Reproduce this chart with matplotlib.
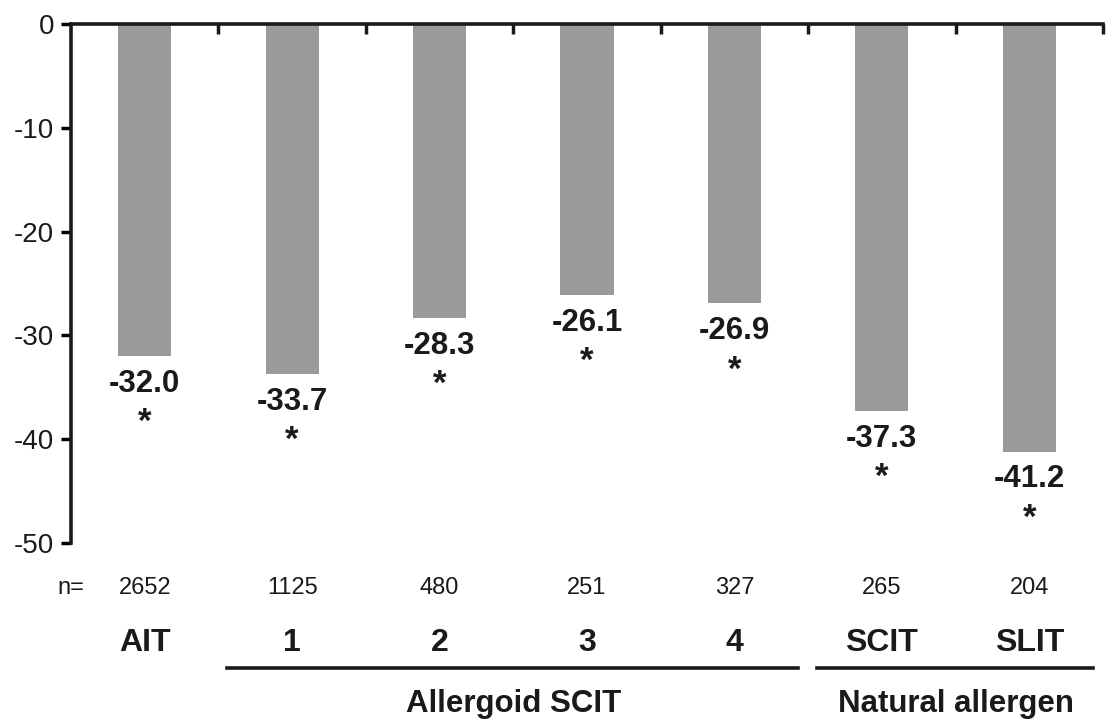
import matplotlib
matplotlib.use("Agg")
import matplotlib.pyplot as plt
from matplotlib.lines import Line2D

plt.rcParams['font.family'] = ['Liberation Sans', 'DejaVu Sans']

categories = ["AIT", "1", "2", "3", "4", "SCIT", "SLIT"]
values = [-32.0, -33.7, -28.3, -26.1, -26.9, -37.3, -41.2]
n_values = ["2652", "1125", "480", "251", "327", "265", "204"]
groups = [("Allergoid SCIT", 1, 4), ("Natural allergen", 5, 6)]
yticks = [0, -10, -20, -30, -40, -50]

fig = plt.figure(figsize=(11.07, 7.25), dpi=100)
ax = fig.add_axes([71/1107, 1-543/725, (1103-71)/1107, (543-24)/725])

x = list(range(len(categories)))
ax.bar(x, values, width=0.36, color="#999a99", edgecolor="none")

ax.set_xlim(-0.5, len(categories) - 0.5)
ax.set_ylim(-50, 0)
ax.set_yticks(yticks)
ax.set_yticklabels([str(t) for t in yticks], fontsize=20, color="#1a1a1a")
ax.tick_params(axis='y', direction='out', length=7, width=2.5, pad=5)

ax.spines['bottom'].set_visible(False)
ax.spines['right'].set_visible(False)
ax.spines['top'].set_linewidth(2.6)
ax.spines['left'].set_linewidth(2.6)
ax.spines['top'].set_color("#1a1a1a")
ax.spines['left'].set_color("#1a1a1a")
ax.xaxis.set_ticks_position('top')
ax.set_xticks([i + 0.5 for i in x])
ax.set_xticklabels([])
ax.tick_params(axis='x', direction='in', length=7, width=2.5, color="#1a1a1a")

for xi, v in zip(x, values):
    ax.annotate(f"{v:.1f}", (xi, v), xytext=(0, -20), textcoords="offset points",
                ha="center", va="center", fontsize=22.5, fontweight="bold", color="#1a1a1a")
    ax.annotate("*", (xi, v), xytext=(0, -48), textcoords="offset points",
                ha="center", va="center", fontsize=25, fontweight="bold", color="#1a1a1a")

trans = ax.get_xaxis_transform()
ax.text(-0.59, -0.087, "n=", transform=trans, ha="left", va="center", fontsize=17,
        color="#1a1a1a", clip_on=False)
for xi, nv in zip(x, n_values):
    ax.text(xi, -0.087, nv, transform=trans, ha="center", va="center", fontsize=17,
            color="#1a1a1a", clip_on=False)
    ax.text(xi, -0.193, categories[xi], transform=trans, ha="center", va="center",
            fontsize=23, fontweight="bold", color="#1a1a1a", clip_on=False)

for name, a, b in groups:
    line = Line2D([a - 0.44, b + 0.43], [-0.2415, -0.2415], transform=trans, color="#1a1a1a",
                  lw=2.6, clip_on=False)
    ax.add_line(line)
    ax.text((a + b) / 2, -0.31, name, transform=trans, ha="center", va="center",
            fontsize=22.5, fontweight="bold", color="#1a1a1a", clip_on=False)

fig.savefig("out.png", dpi=100)
